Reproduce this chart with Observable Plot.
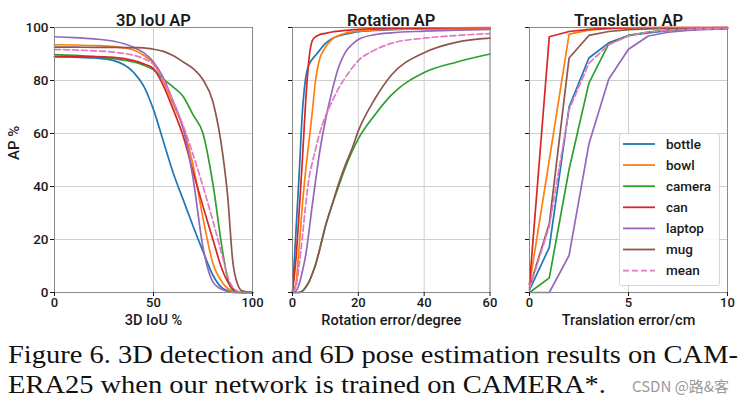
<!DOCTYPE html>
<html>
<head>
<meta charset="utf-8">
<script src="https://cdn.jsdelivr.net/npm/d3@7"></script>
<script src="https://cdn.jsdelivr.net/npm/@observablehq/plot@0.6"></script>
<style>
  html, body { margin: 0; padding: 0; background: #fff; }
  #root { position: relative; width: 744px; height: 409px; overflow: hidden; background: #fff; }
  .panel { position: absolute; top: 0; }
  #legend { position: absolute; left: 619px; top: 133px; width: 101px; height: 153px; box-sizing: border-box;
    border: 1px solid #d6d6d6; border-radius: 3px; background: rgba(255,255,255,0.85); }
  .caption { position: absolute; left: 8px; font-family: "Liberation Serif", serif; font-size: 26px; line-height: 29px; color: #111; white-space: nowrap; transform-origin: 0 0; }
  .wm { position: absolute; font-family: "Noto Sans CJK SC", "Noto Sans", sans-serif; font-size: 15px; color: #9a9a9a; white-space: nowrap; }
</style>
</head>
<body>
<div id="root"></div>
<script>
// ---- data ----
const seriesNames = ["bottle", "bowl", "camera", "can", "laptop", "mug", "mean"];
const seriesColors = ["#1f77b4", "#ff7f0e", "#2ca02c", "#d62728", "#9467bd", "#8c564b", "#e377c2"];

const panelTitles = ["3D IoU AP", "Rotation AP", "Translation AP"];
const xLabels = ["3D IoU %", "Rotation error/degree", "Translation error/cm"];
const yLabel = "AP %";
const yTicks = [0, 20, 40, 60, 80, 100];
const iouTicks = [0, 50, 100];
const rotTicks = [0, 20, 40, 60];
const transTicks = [0, 5, 10];

// 3D IoU AP
const iouX = [0, 10, 20, 30, 40, 45, 50, 55, 60, 65, 70, 75, 80, 85, 87.5, 90, 92.5, 95, 100];
const iouBottle = [89, 88.8, 88.5, 87.5, 83, 78, 69, 57, 45, 35, 25, 15.5, 6.5, 1.5, 0.6, 0.2, 0, 0, 0];
const iouBowl   = [93.5, 93.4, 93.2, 92.8, 91.5, 89.5, 86.5, 79.5, 71, 62, 48, 28, 11, 3.5, 1.5, 0.4, 0, 0, 0];
const iouCamera = [89.8, 89.5, 89, 88.2, 87, 85.8, 84, 80.5, 77.5, 74, 67, 60, 41, 15, 5, 1, 0.2, 0, 0];
const iouCan    = [89, 89, 89, 88.7, 87.5, 86.3, 84.5, 78, 69, 59, 45.5, 32.5, 20, 8, 4, 1.5, 0.4, 0, 0];
const iouLaptop = [96.5, 96.2, 95.7, 94.8, 92.5, 90.5, 87, 81, 72, 62, 43, 17, 4, 1, 0.4, 0, 0, 0, 0];
const iouMug    = [92.6, 92.6, 92.5, 92.5, 92.4, 92.3, 91.8, 91, 89.3, 87, 84.5, 80.3, 72, 52, 36, 12, 3, 0.5, 0];
const iouMean   = [91.7, 91.5, 91.2, 90.7, 89.5, 88.3, 86, 80, 72, 63, 52, 40, 27, 13, 6, 2, 0.5, 0, 0];

// Rotation AP
const rotX = [0, 1, 2, 3, 4, 5, 6, 7, 8, 10, 12, 14, 16, 18, 20, 25, 30, 40, 50, 60];
const rotBottle = [0, 22, 44, 68, 81, 86, 88, 89.5, 91, 94, 95.8, 96.8, 97.5, 98, 98.4, 98.9, 99.2, 99.5, 99.6, 99.7];
const rotBowl   = [0, 3, 17, 33, 46, 57, 68, 80, 87, 92.5, 95.5, 97, 97.8, 98.3, 98.7, 99.1, 99.3, 99.5, 99.6, 99.7];
const rotCamera = [0, 0, 0, 0.5, 2, 4, 7, 10.5, 15, 25, 33, 40, 47, 53, 58, 67, 74.5, 83, 87, 90];
const rotCan    = [0, 12, 30, 50, 72, 88, 95, 96.5, 97.2, 97.8, 98.3, 98.6, 98.9, 99.1, 99.3, 99.5, 99.7, 99.8, 99.9, 100];
const rotLaptop = [0, 0.5, 3, 8, 14, 23, 33, 42, 51, 65, 76, 85, 90.5, 93.5, 95.5, 97.3, 98, 98.6, 99, 99.3];
const rotMug    = [0, 0, 0, 0.5, 2, 4, 7, 10.5, 15, 25, 33, 41, 48, 54, 61, 73, 82, 90.5, 94.5, 96];
const rotMean   = [0, 2, 10, 21, 33, 43, 49, 54, 59, 66.5, 72, 77, 81, 84.5, 87.5, 91.5, 94, 96, 97, 97.7];

// Translation AP
const transX = [0, 1, 2, 3, 4, 5, 6, 7, 8, 9, 10];
const trBottle = [1, 17, 70, 88.5, 94.2, 97, 98, 98.8, 99.3, 99.5, 99.7];
const trBowl   = [3, 50, 97.5, 99, 99.6, 99.8, 99.9, 100, 100, 100, 100];
const trCamera = [0, 5.5, 46.5, 79, 93.8, 97, 98.3, 99, 99.3, 99.5, 99.6];
const trCan    = [3, 96.5, 98.5, 99.3, 99.7, 99.9, 100, 100, 100, 100, 100];
const trLaptop = [0, 0, 14, 56, 80.5, 91.8, 96.8, 98.2, 98.9, 99.3, 99.5];
const trMug    = [2, 26, 88.5, 97, 98.5, 99.2, 99.5, 99.7, 99.8, 99.9, 100];
const trMean   = [1.5, 25, 69, 86.5, 93.5, 96.8, 98.3, 99, 99.3, 99.5, 99.7];

const captionLines = [
  "Figure 6. 3D detection and 6D pose estimation results on CAM-",
  "ERA25 when our network is trained on CAMERA*."
];
const watermark = "CSDN @路&客";

// ---- build ----
function rows(xs, ysList) {
  const out = [];
  ysList.forEach((ys, i) => ys.forEach((y, j) => out.push({ s: seriesNames[i], x: xs[j], y })));
  return out;
}

function panel({ left, width, marginLeft, frameWidth, xs, ysList, xDomain, xTicks, title, xLabel, showY, curve }) {
  const data = rows(xs, ysList);
  const solid = data.filter(d => d.s !== "mean");
  const dashed = data.filter(d => d.s === "mean");
  const marks = [
    Plot.gridX(xTicks, { stroke: "#cfcfcf", strokeOpacity: 1 }),
    Plot.gridY(yTicks, { stroke: "#cfcfcf", strokeOpacity: 1 }),
    Plot.line(solid, { x: "x", y: "y", z: "s", stroke: "s", strokeWidth: 1.7, curve }),
    Plot.line(dashed, { x: "x", y: "y", stroke: "s", strokeWidth: 1.7, strokeDasharray: "6,3", curve }),
    Plot.frame({ stroke: "#8a8a8a" }),
    Plot.axisX({ ticks: xTicks, tickSize: 4, tickPadding: 1, label: null, fontSize: 13 }),
    showY
      ? Plot.axisY({ ticks: yTicks, tickSize: 4, tickPadding: 2, label: null, fontSize: 13.5 })
      : Plot.axisY({ ticks: yTicks, tickSize: 4, tickFormat: () => "", label: null }),
    Plot.text([xLabel], { text: d => d, frameAnchor: "bottom", dy: 32, fontSize: 14.5, fontWeight: 500 }),
    Plot.text([title], { text: d => d, frameAnchor: "top", dy: -13, fontSize: 16.5, fontWeight: 600 })
  ];
  if (showY) marks.push(Plot.text([yLabel], { text: d => d, frameAnchor: "left", dx: -40, rotate: -90, fontSize: 15, fontWeight: 500 }));
  const chart = Plot.plot({
    width, height: 335,
    marginLeft, marginRight: width - marginLeft - frameWidth, marginTop: 27, marginBottom: 43,
    style: { fontFamily: "Roboto, sans-serif", fontSize: "13.5px", fontWeight: 500, color: "#1a1a1a", background: "transparent", overflow: "visible" },
    x: { domain: xDomain },
    y: { domain: [0, 100] },
    color: { domain: seriesNames, range: seriesColors },
    marks
  });
  chart.classList.add("panel");
  chart.style.left = left + "px";
  return chart;
}

const root = document.getElementById("root");
root.appendChild(panel({ left: 0, width: 262, marginLeft: 54, frameWidth: 198, xs: iouX,
  ysList: [iouBottle, iouBowl, iouCamera, iouCan, iouLaptop, iouMug, iouMean],
  xDomain: [0, 100], xTicks: iouTicks, title: panelTitles[0], xLabel: xLabels[0], showY: true, curve: "monotone-x" }));
root.appendChild(panel({ left: 272, width: 228, marginLeft: 20, frameWidth: 197.5, xs: rotX,
  ysList: [rotBottle, rotBowl, rotCamera, rotCan, rotLaptop, rotMug, rotMean],
  xDomain: [0, 60], xTicks: rotTicks, title: panelTitles[1], xLabel: xLabels[1], showY: false, curve: "monotone-x" }));
root.appendChild(panel({ left: 509, width: 228, marginLeft: 20, frameWidth: 198, xs: transX,
  ysList: [trBottle, trBowl, trCamera, trCan, trLaptop, trMug, trMean],
  xDomain: [0, 10], xTicks: transTicks, title: panelTitles[2], xLabel: xLabels[2], showY: false, curve: "linear" }));

// legend
const legend = document.createElement("div");
legend.id = "legend";
const ns = "http://www.w3.org/2000/svg";
const lsvg = document.createElementNS(ns, "svg");
lsvg.setAttribute("width", 101); lsvg.setAttribute("height", 153);
lsvg.style.position = "absolute"; lsvg.style.left = "-1px"; lsvg.style.top = "-1px";
seriesNames.forEach((name, i) => {
  const cy = 11 + i * 21.1;
  const ln = document.createElementNS(ns, "line");
  ln.setAttribute("x1", 4); ln.setAttribute("x2", 36); ln.setAttribute("y1", cy); ln.setAttribute("y2", cy);
  ln.setAttribute("stroke", seriesColors[i]); ln.setAttribute("stroke-width", 1.8);
  if (name === "mean") ln.setAttribute("stroke-dasharray", "6,3");
  lsvg.appendChild(ln);
  const t = document.createElementNS(ns, "text");
  t.setAttribute("x", 47); t.setAttribute("y", cy); t.setAttribute("dy", "0.35em");
  t.setAttribute("font-family", "Roboto, sans-serif"); t.setAttribute("font-size", 13.5); t.setAttribute("font-weight", 500);
  t.setAttribute("fill", "#1a1a1a");
  t.textContent = name;
  lsvg.appendChild(t);
});
legend.appendChild(lsvg);
root.appendChild(legend);

// caption
const capDivs = captionLines.map((line, i) => {
  const d = document.createElement("div");
  d.className = "caption";
  d.style.top = (340 + i * 30) + "px";
  d.textContent = line;
  root.appendChild(d);
  return d;
});
const k = 730 / capDivs[0].getBoundingClientRect().width;
capDivs.forEach(d => { d.style.transform = `scaleX(${k})`; });

const wm = document.createElement("div");
wm.className = "wm";
wm.style.left = "632px"; wm.style.top = "375px";
wm.textContent = watermark;
root.appendChild(wm);
</script>
</body>
</html>
